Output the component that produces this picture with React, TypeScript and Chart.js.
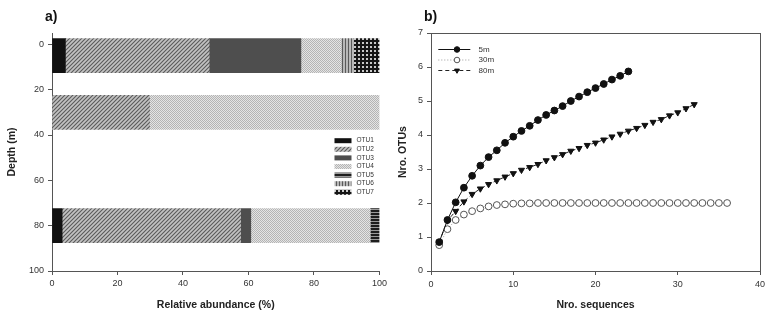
import React, { useEffect, useRef } from 'react';
import { Chart, registerables } from 'chart.js';

Chart.register(...registerables);

// ---------- Panel a data ----------
const depths = [5, 30, 80];
const otuLabels = ['OTU1', 'OTU2', 'OTU3', 'OTU4', 'OTU5', 'OTU6', 'OTU7'];
const otu1 = [4.1, 0, 3.1];
const otu2 = [43.9, 29.8, 54.5];
const otu3 = [28.0, 0, 3.1];
const otu4 = [12.3, 70.2, 36.5];
const otu5 = [0, 0, 2.8];
const otu6 = [3.8, 0, 0];
const otu7 = [7.9, 0, 0];
const depthTicks = [0, 20, 40, 60, 80, 100];
const abundanceTicks = [0, 20, 40, 60, 80, 100];

// ---------- Panel b data ----------
const sequences = [1, 2, 3, 4, 5, 6, 7, 8, 9, 10, 11, 12, 13, 14, 15, 16, 17, 18, 19, 20, 21, 22, 23, 24, 25, 26, 27, 28, 29, 30, 31, 32, 33, 34, 35, 36];
const otus5m = [0.85, 1.5, 2.02, 2.45, 2.8, 3.1, 3.35, 3.55, 3.77, 3.95, 4.12, 4.27, 4.44, 4.59, 4.72, 4.85, 5.0, 5.13, 5.26, 5.38, 5.5, 5.63, 5.74, 5.87];
const otus30m = [0.76, 1.23, 1.5, 1.66, 1.76, 1.84, 1.9, 1.94, 1.96, 1.98, 1.99, 1.99, 2.0, 2.0, 2.0, 2.0, 2.0, 2.0, 2.0, 2.0, 2.0, 2.0, 2.0, 2.0, 2.0, 2.0, 2.0, 2.0, 2.0, 2.0, 2.0, 2.0, 2.0, 2.0, 2.0, 2.0];
const otus80m = [0.85, 1.48, 1.76, 2.04, 2.26, 2.42, 2.55, 2.66, 2.77, 2.87, 2.97, 3.05, 3.14, 3.25, 3.34, 3.43, 3.53, 3.61, 3.7, 3.77, 3.86, 3.95, 4.03, 4.12, 4.2, 4.29, 4.38, 4.46, 4.57, 4.66, 4.78, 4.9];
const seqTicks = [0, 10, 20, 30, 40];
const otuTicks = [0, 1, 2, 3, 4, 5, 6, 7];

const FONT = '"Liberation Sans", Arial, sans-serif';

function makePattern(ctx: CanvasRenderingContext2D, kind: string): any {
  const c = document.createElement('canvas');
  const g = c.getContext('2d') as CanvasRenderingContext2D;
  if (kind === 'diag') {
    c.width = 4; c.height = 4;
    g.fillStyle = '#c2c2c2'; g.fillRect(0, 0, 4, 4);
    g.strokeStyle = '#5a5a5a'; g.lineWidth = 1.1;
    g.beginPath();
    g.moveTo(0, 4); g.lineTo(4, 0);
    g.moveTo(-1, 1); g.lineTo(1, -1);
    g.moveTo(3, 5); g.lineTo(5, 3);
    g.stroke();
  } else if (kind === 'dots') {
    c.width = 2; c.height = 2;
    g.fillStyle = '#e4e4e4'; g.fillRect(0, 0, 2, 2);
    g.fillStyle = '#b4b4b4'; g.fillRect(0, 0, 1, 1); g.fillRect(1, 1, 1, 1);
  } else if (kind === 'hstripe') {
    c.width = 3; c.height = 3;
    g.fillStyle = '#9a9a9a'; g.fillRect(0, 0, 3, 3);
    g.fillStyle = '#1e1e1e'; g.fillRect(0, 0, 3, 2);
  } else if (kind === 'vstripe') {
    c.width = 3; c.height = 3;
    g.fillStyle = '#b8b8b8'; g.fillRect(0, 0, 3, 3);
    g.fillStyle = '#5a5a5a'; g.fillRect(0, 0, 1, 3);
  } else if (kind === 'grid') {
    c.width = 4; c.height = 4;
    g.fillStyle = '#151515'; g.fillRect(0, 0, 4, 4);
    g.fillStyle = '#c8c8c8'; g.fillRect(2, 2, 2, 2);
  }
  return ctx.createPattern(c, 'repeat');
}

const legendAPlugin = {
  id: 'legendA',
  afterDraw(chart: any) {
    const { ctx, chartArea: a } = chart;
    ctx.save();
    ctx.font = `6.5px ${FONT}`;
    ctx.textBaseline = 'middle';
    ctx.textAlign = 'left';
    chart.data.datasets.forEach((ds: any, i: number) => {
      const y = a.top + 107.7 + i * 8.6;
      ctx.fillStyle = ds.backgroundColor;
      ctx.fillRect(a.right - 45, y - 2.5, 17, 5);
      ctx.fillStyle = '#333';
      ctx.fillText(ds.label, a.right - 23, y);
    });
    ctx.restore();
  },
};

const framePlugin = {
  id: 'frameB',
  afterDraw(chart: any) {
    const { ctx, chartArea: a } = chart;
    ctx.save();
    ctx.strokeStyle = '#555';
    ctx.lineWidth = 1;
    ctx.strokeRect(Math.round(a.left) + 0.5, Math.round(a.top) + 0.5, Math.round(a.right - a.left), Math.round(a.bottom - a.top));
    ctx.restore();
  },
};

function drawMarker(ctx: CanvasRenderingContext2D, style: string, x: number, y: number, r: number, fill: string, stroke: string) {
  ctx.beginPath();
  if (style === 'triangle') {
    const w = r * Math.sqrt(3);
    ctx.moveTo(x - w / 2, y - r / 2);
    ctx.lineTo(x + w / 2, y - r / 2);
    ctx.lineTo(x, y + r);
    ctx.closePath();
  } else {
    ctx.arc(x, y, r, 0, Math.PI * 2);
  }
  ctx.fillStyle = fill;
  ctx.fill();
  ctx.strokeStyle = stroke;
  ctx.lineWidth = 1;
  ctx.stroke();
}

const legendBPlugin = {
  id: 'legendB',
  afterDraw(chart: any) {
    const { ctx, chartArea: a } = chart;
    ctx.save();
    ctx.font = `8px ${FONT}`;
    ctx.textBaseline = 'middle';
    ctx.textAlign = 'left';
    chart.data.datasets.forEach((ds: any, i: number) => {
      const y = a.top + 16.5 + i * 10.5;
      ctx.strokeStyle = ds.borderColor;
      ctx.lineWidth = 1;
      ctx.setLineDash(ds.borderDash || []);
      ctx.beginPath();
      ctx.moveTo(a.left + 7.3, y);
      ctx.lineTo(a.left + 39.3, y);
      ctx.stroke();
      ctx.setLineDash([]);
      drawMarker(ctx, ds.pointStyle, a.left + 26, y, 2.8, ds.pointBackgroundColor, ds.pointBorderColor);
      ctx.fillStyle = '#333';
      ctx.fillText(ds.label, a.left + 47.6, y);
    });
    ctx.restore();
  },
};

const tickFont = { family: FONT, size: 9 };
const titleFont = { family: FONT, size: 10.5, weight: 'bold' as const };

export default function App() {
  const refA = useRef<HTMLCanvasElement>(null);
  const refB = useRef<HTMLCanvasElement>(null);

  useEffect(() => {
    const ctxA = refA.current!.getContext('2d')!;
    const patterns = [
      '#111111',
      makePattern(ctxA, 'diag'),
      '#4e4e4e',
      makePattern(ctxA, 'dots'),
      makePattern(ctxA, 'hstripe'),
      makePattern(ctxA, 'vstripe'),
      makePattern(ctxA, 'grid'),
    ];
    const series = [otu1, otu2, otu3, otu4, otu5, otu6, otu7];
    const datasetsA = series.map((vals, k) => {
      const data: any[] = [];
      depths.forEach((d, i) => {
        let start = 0;
        for (let j = 0; j < k; j++) start += series[j][i];
        if (vals[i] > 0) data.push({ y: d, x: [start, start + vals[i]] });
      });
      return {
        label: otuLabels[k],
        data,
        backgroundColor: patterns[k],
        borderWidth: 0,
        barThickness: 34,
        grouped: false,
      };
    });

    const chartA = new Chart(refA.current!, {
      type: 'bar',
      data: { datasets: datasetsA as any },
      options: {
        animation: false,
        responsive: false,
        indexAxis: 'y',
        layout: { padding: { top: 33, right: 9, left: 0, bottom: 0 } },
        plugins: { legend: { display: false }, tooltip: { enabled: false } },
        scales: {
          y: {
            type: 'linear',
            reverse: true,
            min: -5,
            max: 100,
            offset: false,
            afterBuildTicks: (s: any) => { s.ticks = depthTicks.map((v) => ({ value: v })); },
            afterFit: (s: any) => { s.width = 52; },
            grid: { display: true, offset: false, drawOnChartArea: false, drawTicks: true, tickLength: 4, color: '#555' },
            border: { display: true, color: '#555', width: 1 },
            ticks: { font: tickFont, color: '#333', padding: 4 },
            title: { display: true, text: 'Depth (m)', font: titleFont, color: '#222', padding: { top: 6, bottom: 0 } },
          },
          x: {
            type: 'linear',
            min: 0,
            max: 100,
            offset: false,
            afterBuildTicks: (s: any) => { s.ticks = abundanceTicks.map((v) => ({ value: v })); },
            afterFit: (s: any) => { s.height = 45; },
            grid: { display: true, offset: false, drawOnChartArea: false, drawTicks: true, tickLength: 4, color: '#555' },
            border: { display: true, color: '#555', width: 1 },
            ticks: { font: tickFont, color: '#333', padding: 3, maxRotation: 0 },
            title: { display: true, text: 'Relative abundance (%)', font: titleFont, color: '#222', padding: { top: 0, bottom: 5 } },
          },
        },
      } as any,
      plugins: [legendAPlugin],
    });

    const chartB = new Chart(refB.current!, {
      type: 'line',
      data: {
        datasets: [
          {
            label: '5m',
            data: otus5m.map((v, i) => ({ x: sequences[i], y: v })),
            borderColor: '#111',
            borderWidth: 1,
            pointStyle: 'circle',
            pointRadius: 3.4,
            pointBackgroundColor: '#111',
            pointBorderColor: '#111',
            pointBorderWidth: 1,
          },
          {
            label: '30m',
            data: otus30m.map((v, i) => ({ x: sequences[i], y: v })),
            borderColor: '#9a9a9a',
            borderWidth: 1,
            borderDash: [1, 2],
            pointStyle: 'circle',
            pointRadius: 3.4,
            pointBackgroundColor: '#fff',
            pointBorderColor: '#555',
            pointBorderWidth: 1,
          },
          {
            label: '80m',
            data: otus80m.map((v, i) => ({ x: sequences[i], y: v })),
            borderColor: '#222',
            borderWidth: 1,
            borderDash: [4, 3],
            pointStyle: 'triangle',
            rotation: 180,
            pointRadius: 3.5,
            pointBackgroundColor: '#111',
            pointBorderColor: '#111',
            pointBorderWidth: 1,
          },
        ] as any,
      },
      options: {
        animation: false,
        responsive: false,
        layout: { padding: { top: 33, right: 13, left: 0, bottom: 0 } },
        plugins: { legend: { display: false }, tooltip: { enabled: false } },
        scales: {
          x: {
            type: 'linear',
            min: 0,
            max: 40,
            afterBuildTicks: (s: any) => { s.ticks = seqTicks.map((v) => ({ value: v })); },
            afterFit: (s: any) => { s.height = 45; },
            grid: { display: true, drawOnChartArea: false, drawTicks: true, tickLength: 4, color: '#555' },
            border: { display: true, color: '#555', width: 1 },
            ticks: { font: tickFont, color: '#333', padding: 4, maxRotation: 0 },
            title: { display: true, text: 'Nro. sequences', font: titleFont, color: '#222', padding: { top: 0, bottom: 5 } },
          },
          y: {
            type: 'linear',
            min: 0,
            max: 7,
            afterBuildTicks: (s: any) => { s.ticks = otuTicks.map((v) => ({ value: v })); },
            afterFit: (s: any) => { s.width = 41; },
            grid: { display: true, drawOnChartArea: false, drawTicks: true, tickLength: 4, color: '#555' },
            border: { display: true, color: '#555', width: 1 },
            ticks: { font: tickFont, color: '#333', padding: 4 },
            title: { display: true, text: 'Nro. OTUs', font: titleFont, color: '#222', padding: { top: 7, bottom: 0 } },
          },
        },
      } as any,
      plugins: [framePlugin, legendBPlugin],
    });

    return () => {
      chartA.destroy();
      chartB.destroy();
    };
  }, []);

  const labelStyle: React.CSSProperties = {
    position: 'absolute',
    fontFamily: FONT,
    fontWeight: 'bold',
    fontSize: '14px',
    lineHeight: '14px',
    color: '#111',
  };

  return (
    <div style={{ position: 'absolute', left: 0, top: 0, width: 773, height: 316, background: '#fff', overflow: 'hidden' }}>
      <canvas ref={refA} width={390} height={316} style={{ position: 'absolute', left: 0, top: 0, width: 390, height: 316 }} />
      <canvas ref={refB} width={383} height={316} style={{ position: 'absolute', left: 390, top: 0, width: 383, height: 316 }} />
      <div style={{ ...labelStyle, left: 45, top: 9 }}>a)</div>
      <div style={{ ...labelStyle, left: 424, top: 9 }}>b)</div>
    </div>
  );
}
